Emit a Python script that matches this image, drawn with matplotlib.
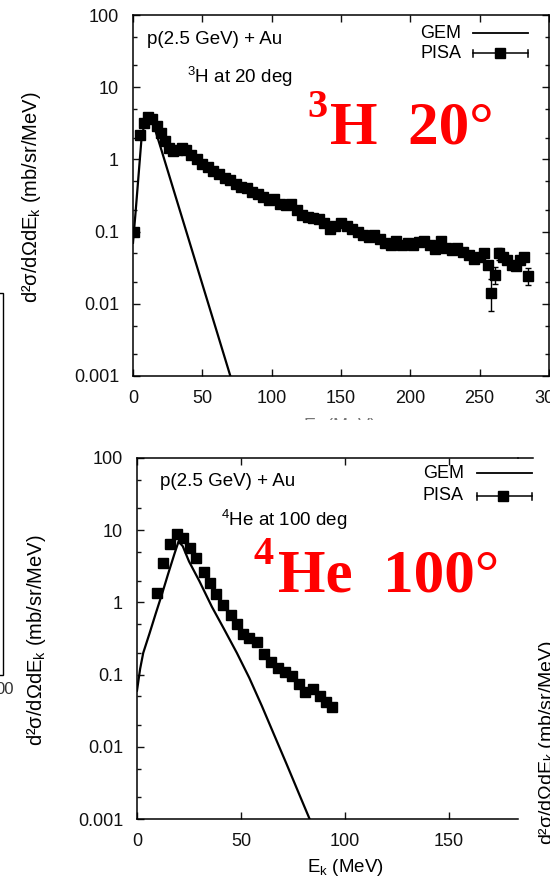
import numpy as np
import matplotlib
matplotlib.use('Agg')
from matplotlib import pyplot as plt
from matplotlib.ticker import FixedLocator, LogLocator, FuncFormatter, NullFormatter
from matplotlib.patches import Rectangle

plt.rcParams['font.family'] = ['Liberation Sans', 'DejaVu Sans']
plt.rcParams['mathtext.fontset'] = 'custom'
plt.rcParams['mathtext.rm'] = 'Liberation Sans'
plt.rcParams['mathtext.it'] = 'Liberation Sans:italic'
plt.rcParams['mathtext.bf'] = 'Liberation Sans:bold'

W, H = 550, 885

# ---- 3H at 20 deg ----
gem_h3_E = [0, 2, 4, 6, 8, 10, 12, 14, 20, 30, 40, 50, 60, 70, 75]
gem_h3_v = [0.07, 0.2, 0.6, 1.8, 3.0, 3.8, 3.9, 3.4, 1.45, 0.34, 0.08, 0.0187, 0.0044, 0.00103, 0.0005]

pisa_h3_E = [1, 5, 8, 11, 14, 17, 20, 23, 26, 29, 32, 35, 38, 42, 46, 50, 54, 58, 62, 66,
             70, 74, 78, 82, 86, 90, 94, 98, 102, 106, 110, 114, 118, 122, 126, 130, 134,
             138, 142, 146, 150, 154, 158, 162, 166, 170, 174, 178, 182, 186, 190, 194,
             198, 202, 206, 210, 214, 218, 222, 226, 230, 234, 238, 242, 246, 250, 253,
             256, 258, 261, 264, 267, 270, 273, 276, 279, 282, 285]
pisa_h3_v = [0.1, 2.2, 3.2, 3.9, 3.6, 2.9, 2.3, 1.8, 1.45, 1.3, 1.35, 1.45, 1.35, 1.15, 1.0,
             0.85, 0.78, 0.7, 0.62, 0.55, 0.52, 0.46, 0.42, 0.4, 0.35, 0.33, 0.3, 0.27, 0.28,
             0.24, 0.23, 0.24, 0.2, 0.17, 0.16, 0.155, 0.15, 0.13, 0.11, 0.12, 0.13, 0.12,
             0.11, 0.1, 0.09, 0.085, 0.09, 0.08, 0.07, 0.065, 0.075, 0.065, 0.07, 0.065,
             0.072, 0.075, 0.065, 0.058, 0.075, 0.06, 0.055, 0.06, 0.052, 0.048, 0.042,
             0.045, 0.05, 0.035, 0.014, 0.025, 0.05, 0.045, 0.04, 0.035, 0.033, 0.04, 0.045,
             0.024]
err_h3_E = [258, 261, 264, 285]
err_h3_v = [0.014, 0.025, 0.05, 0.024]
err_h3_lo = [0.006, 0.006, 0.01, 0.006]
err_h3_hi = [0.008, 0.007, 0.01, 0.007]

# ---- 4He at 100 deg ----
gem_he4_E = [0, 1.5, 3, 6, 9, 12, 15, 18, 20, 22, 25, 30, 36, 42, 48, 54, 60, 66, 72, 78, 83, 86]
gem_he4_v = [0.06, 0.12, 0.2, 0.37, 0.7, 1.3, 2.5, 4.7, 7.0, 6.0, 3.7, 1.97, 0.87, 0.42, 0.2,
             0.09, 0.037, 0.0145, 0.0057, 0.0022, 0.001, 0.0006]

pisa_he4_E = [9.5, 12.5, 16, 19, 22, 25.5, 28.5, 32, 35, 38, 41.5, 45, 48, 51, 54, 57.5, 61,
              64.5, 68, 71, 74.5, 78, 81, 84.5, 88, 91, 94]
pisa_he4_v = [1.35, 3.5, 6.5, 9.0, 7.8, 5.7, 4.1, 2.6, 1.85, 1.3, 0.92, 0.66, 0.5, 0.37, 0.32,
              0.28, 0.19, 0.15, 0.125, 0.11, 0.095, 0.075, 0.057, 0.063, 0.05, 0.042, 0.036]

ylabel = r'd²σ/dΩdE$_\mathrm{k}$ (mb/sr/MeV)'
xlabel = r'E$_\mathrm{k}$ (MeV)'
yticks = [0.001, 0.01, 0.1, 1, 10, 100]

fig = plt.figure(figsize=(W / 100, H / 100), dpi=100)


def px(x, y):
    return x / W, 1 - y / H


def box(x0, y0, x1, y1):
    return [x0 / W, 1 - y1 / H, (x1 - x0) / W, (y1 - y0) / H]


def style(ax, xmax, xticks, right=True):
    ax.set_yscale('log')
    ax.set_ylim(1e-3, 100)
    ax.set_xlim(0, xmax)
    ax.xaxis.set_major_locator(FixedLocator(xticks))
    ax.yaxis.set_major_locator(FixedLocator(yticks))
    ax.yaxis.set_minor_locator(LogLocator(subs=(2, 5), numticks=20))
    ax.yaxis.set_minor_formatter(NullFormatter())
    ax.yaxis.set_major_formatter(FuncFormatter(lambda v, p: '%g' % v))
    ax.tick_params(which='both', direction='in', top=True, right=right, labelsize=13,
                   width=1, pad=10, colors='#111')
    ax.tick_params(which='major', length=5)
    ax.tick_params(which='minor', length=3)
    for s in ax.spines.values():
        s.set_linewidth(1.1)
    if not right:
        ax.spines['right'].set_visible(False)


def legend(x_txt, y_gem, y_pisa, x0, x1, xm):
    fig.text(*px(x_txt, y_gem), 'GEM', ha='right', va='center', fontsize=13)
    fig.text(*px(x_txt, y_pisa), 'PISA', ha='right', va='center', fontsize=13)
    fig.add_artist(plt.Line2D([x0 / W, x1 / W], [1 - y_gem / H] * 2, color='k', lw=1.3))
    fig.add_artist(plt.Line2D([x0 / W, x1 / W], [1 - y_pisa / H] * 2, color='k', lw=1.1))
    for xc in (x0, x1):
        fig.add_artist(plt.Line2D([xc / W] * 2, [1 - (y_pisa - 3.5) / H, 1 - (y_pisa + 3.5) / H],
                                  color='k', lw=1.1))
    fig.add_artist(plt.Line2D([xm / W], [1 - y_pisa / H], marker='s', ms=7, color='k'))


# top panel
ax1 = fig.add_axes(box(133, 15, 549, 376))
style(ax1, 300, [0, 50, 100, 150, 200, 250, 300])
ax1.plot(gem_h3_E, gem_h3_v, color='k', lw=1.6)
ax1.plot(pisa_h3_E, pisa_h3_v, 's', color='k', ms=7.5)
ax1.errorbar(err_h3_E, err_h3_v, yerr=[err_h3_lo, err_h3_hi], fmt='none', ecolor='k',
             elinewidth=1, capsize=2.5)

# bottom panel
ax2 = fig.add_axes(box(137, 458, 518, 819))
style(ax2, 183.2, [0, 50, 100, 150], right=False)
ax2.plot(gem_he4_E, gem_he4_v, color='k', lw=1.6)
ax2.plot(pisa_he4_E, pisa_he4_v, 's', color='k', ms=7.5)
fig.add_artist(plt.Line2D([518 / W, 533 / W], [1 - 458 / H] * 2, color='k', lw=1.1))

# annotations
fig.text(*px(147, 39), 'p(2.5 GeV) + Au', va='center', fontsize=13.5)
fig.text(*px(187, 77), r'$^3$H at 20 deg', va='center', fontsize=13.5)
fig.text(*px(160, 482), 'p(2.5 GeV) + Au', va='center', fontsize=13.5)
fig.text(*px(221, 520), r'$^4$He at 100 deg', va='center', fontsize=13.5)
legend(461, 33, 53, 473, 528, 500)
legend(464, 473, 496, 477, 532, 503)

red = dict(color='#ff0000', family='Liberation Serif', weight='bold')
fig.text(*px(307, 89), '3', va='top', fontsize=29, **red)
fig.text(*px(330, 143), 'H  20°', va='baseline', fontsize=44, **red)
fig.text(*px(254, 536), '4', va='top', fontsize=29, **red)
fig.text(*px(278, 592), 'He  100°', va='baseline', fontsize=44, **red)

# axis labels
fig.text(*px(32, 197), ylabel, rotation=90, ha='center', va='center', fontsize=14.5)
fig.text(*px(37, 640), ylabel, rotation=90, ha='center', va='center', fontsize=14.5)
fig.text(*px(345, 868), xlabel, ha='center', va='center', fontsize=13.5)
fig.text(*px(340, 416), xlabel, ha='center', va='top', fontsize=13, color='#777')
fig.add_artist(Rectangle(px(100, 440), 450 / W, 20 / H, transform=fig.transFigure,
                         facecolor='white', edgecolor='none', zorder=10))

# fragments of neighbouring panels
fig.add_artist(Rectangle(px(-20, 675), 22.5 / W, 382 / H, transform=fig.transFigure,
                         facecolor='none', edgecolor='k', lw=1))
fig.text(*px(-5, 690), '00', va='center', fontsize=12, color='#333')
fig.text(*px(548, 742), ylabel, rotation=90, ha='center', va='center', fontsize=14)

fig.savefig('out.png', dpi=100)
